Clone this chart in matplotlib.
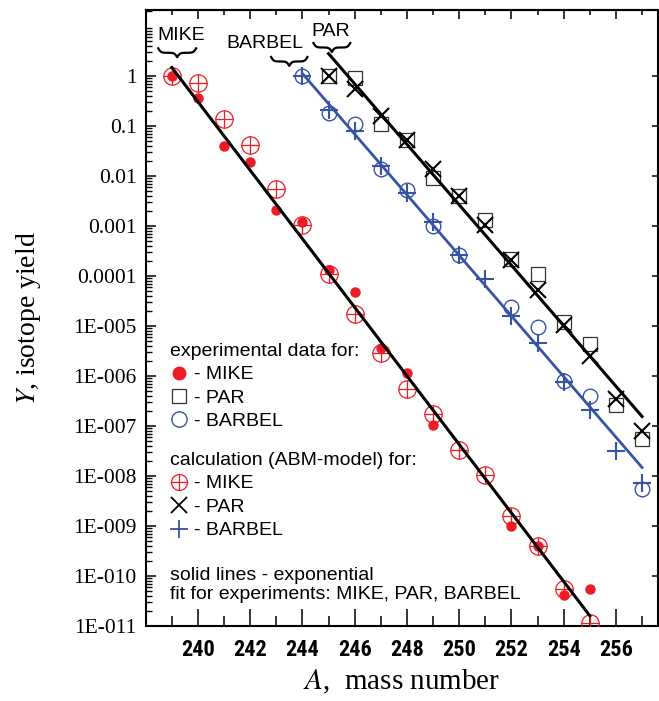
import numpy as np
import matplotlib
matplotlib.use("Agg")
import matplotlib.pyplot as plt
import matplotlib.transforms as mtransforms
from matplotlib import font_manager
from matplotlib.lines import Line2D
from matplotlib.ticker import FixedLocator, FixedFormatter, LogLocator, MultipleLocator, NullFormatter, NullLocator

plt.rcParams['font.family'] = ['Liberation Sans', 'DejaVu Sans']
plt.rcParams['mathtext.fontset'] = 'stix'

RED = '#ED1C24'
BLUE = '#3953A4'

# MIKE: experiment (filled dots) and ABM calculation (crossed circles)
mike_exp_A = [239, 240, 241, 242, 243, 244, 245, 246, 247, 248, 249, 252, 253, 254, 255]
mike_exp_Y = [1.0, 0.37, 0.04, 0.019, 2.1e-3, 1.23e-3, 1.3e-4, 4.7e-5, 3.7e-6, 1.17e-6,
              1.05e-7, 1.02e-9, 3.9e-10, 4.2e-11, 5.4e-11]
mike_calc_A = [239, 240, 241, 242, 243, 244, 245, 246, 247, 248, 249, 250, 251, 252, 253, 254, 255]
mike_calc_Y = [1.0, 0.71, 0.138, 0.042, 5.4e-3, 1.05e-3, 1.1e-4, 1.74e-5, 2.95e-6, 5.6e-7,
               1.74e-7, 3.3e-8, 1.05e-8, 1.6e-9, 3.9e-10, 5.4e-11, 1.17e-11]

# PAR: experiment (squares) and calculation (crosses)
par_exp_A = [245, 246, 247, 248, 249, 250, 251, 252, 253, 254, 255, 256, 257]
par_exp_Y = [1.0, 0.9, 0.11, 0.052, 9.3e-3, 4.0e-3, 1.3e-3, 2.2e-4, 1.1e-4, 1.2e-5,
             4.4e-6, 2.6e-7, 5.6e-8]
par_calc_A = [245, 246, 247, 248, 249, 250, 251, 252, 253, 254, 255, 256, 257]
par_calc_Y = [1.0, 0.56, 0.16, 0.052, 0.0135, 3.9e-3, 1.05e-3, 2.1e-4, 5.2e-5, 1.05e-5,
              2.5e-6, 3.5e-7, 7.8e-8]

# BARBEL: experiment (open circles) and calculation (plus)
barbel_exp_A = [244, 245, 246, 247, 248, 249, 250, 252, 253, 254, 255, 257]
barbel_exp_Y = [1.0, 0.18, 0.11, 0.014, 5.2e-3, 1.0e-3, 2.6e-4, 2.4e-5, 9.7e-6, 8.0e-7,
                3.9e-7, 5.5e-9]
barbel_calc_A = [244, 245, 246, 247, 248, 249, 250, 251, 252, 253, 254, 255, 256, 257]
barbel_calc_Y = [1.0, 0.21, 0.078, 0.0155, 4.5e-3, 1.2e-3, 2.6e-4, 8.7e-5, 1.6e-5, 4.5e-6,
                 7.7e-7, 2.1e-7, 3.1e-8, 7.1e-9]

# exponential fits (end points of the solid lines)
fit_mike_A = [239, 255]
fit_mike_Y = [1.48, 1.6e-11]
fit_par_A = [245, 257]
fit_par_Y = [2.8, 1.55e-7]
fit_barbel_A = [244, 257]
fit_barbel_Y = [1.12, 1.48e-8]

x_major = [240, 242, 244, 246, 248, 250, 252, 254, 256]
y_decades = [1e-11, 1e-10, 1e-9, 1e-8, 1e-7, 1e-6, 1e-5, 1e-4, 1e-3, 1e-2, 1e-1, 1]
y_labels = ['1E-011', '1E-010', '1E-009', '1E-008', '1E-007', '1E-006', '1E-005',
            '0.0001', '0.001', '0.01', '0.1', '1']


def first_font(names):
    for n in names:
        try:
            font_manager.findfont(n, fallback_to_default=False)
            return n
        except ValueError:
            continue
    return None


def draw_brace(ax, x0, x1, ytop, h):
    # horizontal curly brace, cusp pointing down
    trans = mtransforms.blended_transform_factory(ax.transData, ax.transAxes)
    u = np.linspace(0, 1, 60)
    beta = 14
    half = 1 / (1 + np.exp(-beta * u)) + 1 / (1 + np.exp(-beta * (u - 1)))
    shape = np.concatenate([half, half[-2::-1]])
    xs = np.linspace(x0, x1, len(shape))
    ys = ytop - (shape - 0.5) * h
    ax.plot(xs, ys, color='black', lw=1.6, transform=trans, clip_on=False)


# condensed bold font for the x tick labels if one is installed
narrow = first_font(['Liberation Sans Narrow', 'Roboto Condensed', 'Open Sans Condensed'])
if narrow:
    xtick_font, xtick_size = narrow, 16
else:
    xtick_font, xtick_size = 'Liberation Sans', 15

fig = plt.figure(figsize=(6.59, 7.01), dpi=100)
ax = fig.add_axes([145.7 / 659, 75 / 701, (658 - 145.7) / 659, 616 / 701])
ax.set_yscale('log')

# experiment
ax.plot(mike_exp_A, mike_exp_Y, ls='none', marker='o', ms=6.5, mfc=RED, mec=RED, zorder=3)
ax.plot(par_exp_A, par_exp_Y, ls='none', marker='s', ms=9.5, mfc='none', mec='#333333', mew=0.9, zorder=3)
ax.plot(barbel_exp_A, barbel_exp_Y, ls='none', marker='o', ms=10.5, mfc='none', mec=BLUE, mew=1.0, zorder=3)

# calculation
ax.plot(mike_calc_A, mike_calc_Y, ls='none', marker='o', ms=12.5, mfc='none', mec=RED, mew=0.9, zorder=3)
ax.plot(mike_calc_A, mike_calc_Y, ls='none', marker='+', ms=12.5, mec=RED, mew=0.9, zorder=3)
ax.plot(par_calc_A, par_calc_Y, ls='none', marker='x', ms=11, mec='black', mew=1.5, zorder=3)
ax.plot(barbel_calc_A, barbel_calc_Y, ls='none', marker='+', ms=13, mec=BLUE, mew=1.5, zorder=3)

# fit lines
ax.plot(fit_mike_A, fit_mike_Y, color='black', lw=2.2, zorder=4)
ax.plot(fit_par_A, fit_par_Y, color='black', lw=2.2, zorder=4)
ax.plot(fit_barbel_A, fit_barbel_Y, color=BLUE, lw=2.0, zorder=4)

ax.set_xlim(238, 257.61)
ax.set_ylim(1e-11, 10 ** 1.32)

# axes ticks
ax.xaxis.set_major_locator(FixedLocator(x_major))
ax.xaxis.set_minor_locator(MultipleLocator(1))
ax.yaxis.set_major_locator(FixedLocator(y_decades))
ax.yaxis.set_major_formatter(FixedFormatter(y_labels))
ax.yaxis.set_minor_locator(LogLocator(base=10, subs=np.arange(2, 10), numticks=100))
ax.yaxis.set_minor_formatter(NullFormatter())
ax.tick_params(axis='x', which='major', direction='in', length=12, width=1.1, pad=9)
ax.tick_params(axis='x', which='minor', direction='in', length=7, width=1.1)
ax.tick_params(axis='y', which='major', direction='in', length=7.5, width=1.1, pad=6.5)
ax.tick_params(axis='y', which='minor', direction='in', length=4, width=1.0)
for lab in ax.get_xticklabels():
    lab.set_fontfamily(xtick_font)
    lab.set_fontweight('bold')
    lab.set_fontsize(xtick_size)
for lab in ax.get_yticklabels():
    lab.set_fontfamily('Liberation Serif')
    lab.set_fontsize(15.5)
for sp in ax.spines.values():
    sp.set_linewidth(1.5)

top = ax.secondary_xaxis('top')
top.xaxis.set_major_locator(FixedLocator(x_major))
top.xaxis.set_minor_locator(MultipleLocator(1))
top.tick_params(which='major', direction='in', length=6.5, width=1.1, labeltop=False)
top.tick_params(which='minor', direction='in', length=3.6, width=1.1)
top.spines['top'].set_linewidth(1.5)

right = ax.secondary_yaxis('right')
right.yaxis.set_major_locator(FixedLocator(y_decades))
right.yaxis.set_minor_locator(NullLocator())
right.tick_params(which='major', direction='in', length=4.5, width=1.1, labelright=False)

ax.set_ylabel('$Y$, isotope yield', fontfamily='Liberation Serif', fontsize=20)
ax.yaxis.set_label_coords(-0.20, 0.5)
ax.set_xlabel('$A$,  mass number', fontfamily='Liberation Serif', fontsize=21)
ax.xaxis.set_label_coords(0.5, -0.068)

# group labels with braces
blend = mtransforms.blended_transform_factory(ax.transData, ax.transAxes)
ax.text(239.34, 0.9594, 'MIKE', fontsize=14, ha='center', va='center', transform=blend)
ax.text(242.58, 0.9464, 'BARBEL', fontsize=14, ha='center', va='center', transform=blend)
ax.text(245.08, 0.9643, 'PAR', fontsize=14, ha='center', va='center', transform=blend)
draw_brace(ax, 238.48, 239.93, 0.9378, 0.0145)
draw_brace(ax, 242.80, 244.19, 0.9237, 0.0145)
draw_brace(ax, 244.42, 245.83, 0.9464, 0.0145)

# legends
exp_handles = [
    Line2D([], [], ls='none', marker='o', ms=9, mfc=RED, mec=RED),
    Line2D([], [], ls='none', marker='s', ms=10, mfc='none', mec='#333333', mew=0.9),
    Line2D([], [], ls='none', marker='o', ms=11, mfc='none', mec=BLUE, mew=1.0),
]
calc_handles = [
    (Line2D([], [], ls='none', marker='o', ms=11.5, mfc='none', mec=RED, mew=0.9),
     Line2D([], [], ls='none', marker='+', ms=11.5, mec=RED, mew=0.9)),
    Line2D([], [], ls='none', marker='x', ms=11, mec='black', mew=1.3),
    Line2D([], [], ls='none', marker='+', ms=13, mec=BLUE, mew=1.3),
]
labels = ['- MIKE', '- PAR', '- BARBEL']
common = dict(loc='upper left', frameon=False, fontsize=14, title_fontsize=14,
              alignment='left', handlelength=0.95, handletextpad=0.3, borderpad=0,
              borderaxespad=0, labelspacing=0.30)
leg1 = ax.legend(exp_handles, labels, title='experimental data for:',
                 bbox_to_anchor=(0.047, 0.4595), **common)
ax.add_artist(leg1)
leg2 = ax.legend(calc_handles, labels, title='calculation (ABM-model) for:',
                 bbox_to_anchor=(0.047, 0.2825), **common)
ax.text(0.047, 0.0958, 'solid lines - exponential\nfit for experiments: MIKE, PAR, BARBEL',
        transform=ax.transAxes, fontsize=14, ha='left', va='top', linespacing=1.17)

fig.savefig('out.png', dpi=100)
